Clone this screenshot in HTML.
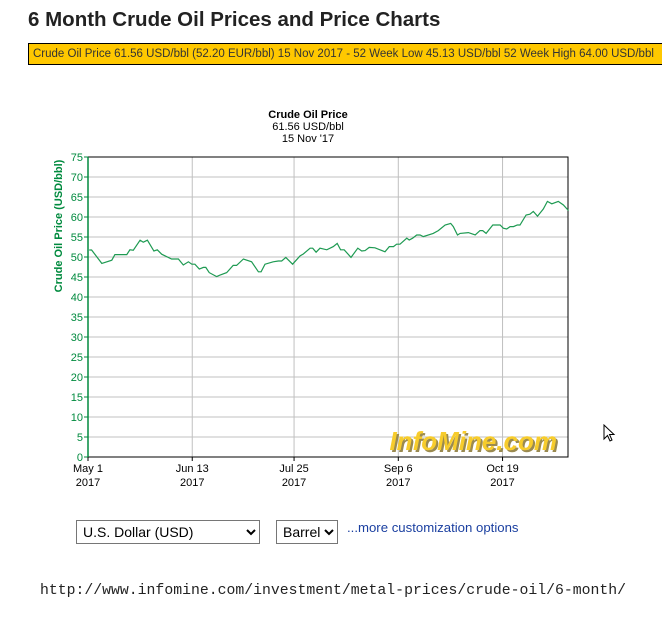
<!DOCTYPE html>
<html><head><meta charset="utf-8"><style>
body{margin:0;width:662px;height:632px;background:#fff;font-family:"Liberation Sans",Arial,sans-serif;position:relative;overflow:hidden}
.abs{position:absolute}
h1{position:absolute;left:28px;top:8px;margin:0;font-size:20.5px;font-weight:bold;color:#222}
.bar{left:28px;top:43px;width:640px;height:22px;background:#ffc800;border:1px solid #000;box-sizing:border-box;font-size:11.5px;color:#333;line-height:21px;padding-left:4px;white-space:nowrap}
select{position:absolute;font-family:"Liberation Sans",sans-serif;font-size:14px;background:#fff;border:1px solid #767676;height:24px;color:#000;padding-left:2px}
</style></head><body>
<h1>6 Month Crude Oil Prices and Price Charts</h1>
<div class="abs bar">Crude Oil Price 61.56 USD/bbl (52.20 EUR/bbl) 15 Nov 2017 - 52 Week Low 45.13 USD/bbl 52 Week High 64.00 USD/bbl</div>
<svg class="abs" style="left:0;top:0" width="662" height="500" id="chart">
<text x="308" y="118" text-anchor="middle" font-size="11" font-weight="bold" font-family="Liberation Sans,sans-serif">Crude Oil Price</text>
<text x="308" y="130" text-anchor="middle" font-size="11" font-family="Liberation Sans,sans-serif">61.56 USD/bbl</text>
<text x="308" y="142" text-anchor="middle" font-size="11" font-family="Liberation Sans,sans-serif">15 Nov '17</text>
<text transform="translate(62,226) rotate(-90)" text-anchor="middle" font-size="11" font-weight="bold" fill="#008a3e" font-family="Liberation Sans,sans-serif">Crude Oil Price (USD/bbl)</text>
<g id="grid"></g><g id="axes"></g>
<text x="559" y="452" text-anchor="end" font-size="26" font-weight="bold" font-style="italic" fill="#9a8a50" font-family="Liberation Sans,sans-serif">InfoMine.com</text>
<text x="557" y="450" text-anchor="end" font-size="26" font-weight="bold" font-style="italic" fill="#f7cc2c" font-family="Liberation Sans,sans-serif">InfoMine.com</text>
<path id="line" fill="none" stroke="#1e9a52" stroke-width="1.2"/>
</svg>
<select style="left:76px;top:520px;width:184px"><option>U.S. Dollar (USD)</option></select>
<select style="left:276px;top:520px;width:62px"><option>Barrel</option></select>
<div class="abs" style="left:347px;top:520px;font-size:13.2px;color:#1a3fa0">...more customization options</div>
<div class="abs" style="left:40px;top:583px;font-family:'Liberation Mono',monospace;font-size:14.8px;color:#222">http://www.infomine.com/investment/metal-prices/crude-oil/6-month/</div>
<svg class="abs" style="left:603px;top:424px" width="14" height="20"><path d="M1 1 L1 15 L4.5 11.5 L7 17 L9 16 L6.5 10.5 L11 10.5 Z" fill="#fff" stroke="#000"/></svg>
<script>
const days=[0.5,1.5,5.7,9.8,11.1,16,17.3,18.7,21.5,22.8,24.5,27.2,28.6,30.4,34.5,37.3,39.3,41.4,42.8,44.1,45.9,47.6,48.6,50,53.1,54.5,57.2,59.9,61.3,64.1,67.5,70.3,71.4,73,76.4,78.5,79.9,81.6,84.4,87.5,88.8,91.6,92.7,94.1,95.7,98.5,101.2,102.8,104.2,105.7,108.5,111.3,112.9,114.3,116,118.4,122.5,124.3,126,127.3,128.7,131.5,132.5,133.9,135.6,137,138.3,142.4,144.5,147.3,149.6,150.7,152.4,153.5,156.9,159.7,161.7,162.8,164.2,167,170,171.3,172.7,174.1,175.5,177.1,178.2,180.7,182.3,183.7,185.4,187.8,189.5,191.3,194,196.1,198.2];
const prices=[51.75,51.75,48.4,49.2,50.6,50.6,51.8,51.7,54.2,53.7,54.2,51.5,51.8,50.7,49.5,49.5,48,48.8,48.2,48.2,47,47.4,47.4,46.1,45.1,45.5,46.1,47.9,47.9,49.5,48.8,46.3,46.3,48.2,48.8,49,49,49.9,48.2,50.3,50.75,52.2,52.2,51.2,52.2,51.8,52.6,53.4,51.8,51.8,49.9,52.2,51.5,51.6,52.4,52.3,51.3,52.6,52.6,53.2,53.2,54.7,54.25,54.7,55.5,55.5,55.1,55.9,56.6,58,58.4,57.6,55.5,55.9,56.1,55.5,56.6,56.6,55.9,58,58,57.2,57,57.6,57.6,58,58,60.5,60.7,61.4,60.2,62,63.9,63.3,63.9,63,61.6];
const yTicks=[0,5,10,15,20,25,30,35,40,45,50,55,60,65,70,75];
const xTickDays=[0,43,85,128,171];
const xTickLabels=["May 1","Jun 13","Jul 25","Sep 6","Oct 19"];
const X0=88,X1=568,Y0=457,Y1=157,DMAX=198,VMAX=75;
const xs=d=>X0+d/DMAX*(X1-X0);
const ys=v=>Y0-v/VMAX*(Y0-Y1);
const NS="http://www.w3.org/2000/svg";
const grid=document.getElementById('grid'),axes=document.getElementById('axes');
function mk(tag,attrs,parent,txt){const e=document.createElementNS(NS,tag);for(const k in attrs)e.setAttribute(k,attrs[k]);if(txt!=null)e.textContent=txt;parent.appendChild(e);return e;}
yTicks.forEach(v=>{
  if(v>0&&v<VMAX){const g=mk('line',{x1:X0,x2:X1,y1:ys(v),y2:ys(v),stroke:'#c0c0c0'},grid);
  
  }
  const tk=mk('line',{x1:X0-4,x2:X0,y1:ys(v),y2:ys(v),stroke:'#008a3e'},axes);
  
  
  const t=mk('text',{x:X0-5,y:ys(v)+4,'text-anchor':'end','font-size':11,fill:'#008a3e','font-family':'Liberation Sans,sans-serif'},axes,v);
  
  
});
xTickDays.forEach((d,i)=>{
  if(d>0){const g=mk('line',{x1:xs(d),x2:xs(d),y1:Y1,y2:Y0,stroke:'#c0c0c0'},grid);
  
  }
  mk('line',{x1:xs(d),x2:xs(d),y1:Y0,y2:Y0+4,stroke:'#000'},axes);
  const t=mk('text',{x:xs(d),y:Y0+15,'text-anchor':'middle','font-size':11,'font-family':'Liberation Sans,sans-serif'},axes,xTickLabels[i]);
  
  
  const t2=mk('text',{x:xs(d),y:Y0+29,'text-anchor':'middle','font-size':11,'font-family':'Liberation Sans,sans-serif'},axes,'2017');
  
  
});
mk('path',{d:`M${X0} ${Y0}H${X1}V${Y1}H${X0}`,fill:'none',stroke:'#000'},axes);
const ya=mk('line',{x1:X0,x2:X0,y1:Y1,y2:Y0,stroke:'#008a3e','stroke-width':1.5},axes);


document.getElementById('line').setAttribute('d',days.map((d,i)=>(i?'L':'M')+xs(d).toFixed(1)+' '+ys(prices[i]).toFixed(1)).join(''));
</script>
</body></html>
